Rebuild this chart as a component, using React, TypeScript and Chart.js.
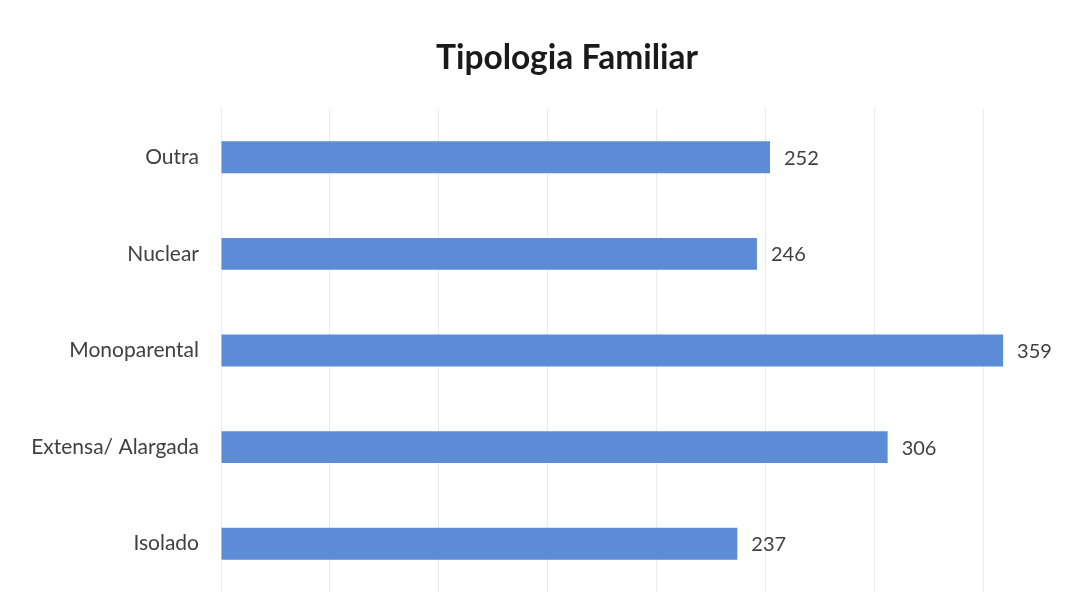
import React, { useEffect, useRef } from "react";
import { Chart, registerables } from "chart.js";

Chart.register(...registerables);

const categories = ["Outra", "Nuclear", "Monoparental", "Extensa/ Alargada", "Isolado"];
const values = [252, 246, 359, 306, 237];
const chartTitle = "Tipologia Familiar";

const FONT = "Lato, 'Open Sans', sans-serif";

export default function App() {
  const ref = useRef<HTMLCanvasElement | null>(null);

  useEffect(() => {
    if (!ref.current) return;
    const valueLabels = {
      id: "valueLabels",
      afterDatasetsDraw(chart: any) {
        const ctx = chart.ctx;
        const meta = chart.getDatasetMeta(0);
        ctx.save();
        ctx.font = `20px ${FONT}`;
        ctx.fillStyle = "#404040";
        ctx.textAlign = "left";
        ctx.textBaseline = "middle";
        meta.data.forEach((bar: any, i: number) => {
          ctx.fillText(String(values[i]), bar.x + 14, bar.y + 1);
        });
        ctx.restore();
      },
    };
    const titlePlugin = {
      id: "customTitle",
      afterDraw(chart: any) {
        const ctx = chart.ctx;
        ctx.save();
        ctx.font = `bold 33.5px ${FONT}`;
        ctx.fillStyle = "#1a1a1a";
        ctx.textAlign = "center";
        ctx.textBaseline = "middle";
        ctx.fillText(chartTitle, 567, 58);
        ctx.restore();
      },
    };
    const chart = new Chart(ref.current, {
      type: "bar",
      data: {
        labels: categories,
        datasets: [
          {
            data: values,
            backgroundColor: "#5b8cd5",
            borderWidth: 0,
            categoryPercentage: 1,
            barPercentage: 0.33,
          },
        ],
      },
      options: {
        indexAxis: "y",
        animation: false,
        responsive: false,
        maintainAspectRatio: false,
        layout: { padding: { top: 109, bottom: 19, left: 0, right: 7 } },
        plugins: {
          legend: { display: false },
          title: { display: false },
          tooltip: { enabled: false },
        },
        scales: {
          x: {
            min: 0,
            max: 392,
            ticks: { display: false, stepSize: 50, includeBounds: false },
            grid: { color: "#ebebeb", drawTicks: false },
            border: { display: false },
            afterFit(scale: any) {
              scale.height = 0;
              scale.paddingLeft = 0;
              scale.paddingRight = 0;
            },
          },
          y: {
            grid: { display: false, drawTicks: false },
            border: { display: false },
            ticks: {
              color: "#404040",
              font: { family: FONT, size: 21 },
              padding: 22,
            },
            afterFit(scale: any) {
              scale.width = 221;
              scale.paddingTop = 0;
              scale.paddingBottom = 0;
            },
          },
        },
      },
      plugins: [valueLabels, titlePlugin],
    });
    return () => chart.destroy();
  }, []);

  return (
    <div style={{ position: "fixed", left: 0, top: 0, width: 1082, height: 611, background: "#fff" }}>
      <canvas ref={ref} width={1082} height={611} style={{ width: 1082, height: 611 }} />
    </div>
  );
}
